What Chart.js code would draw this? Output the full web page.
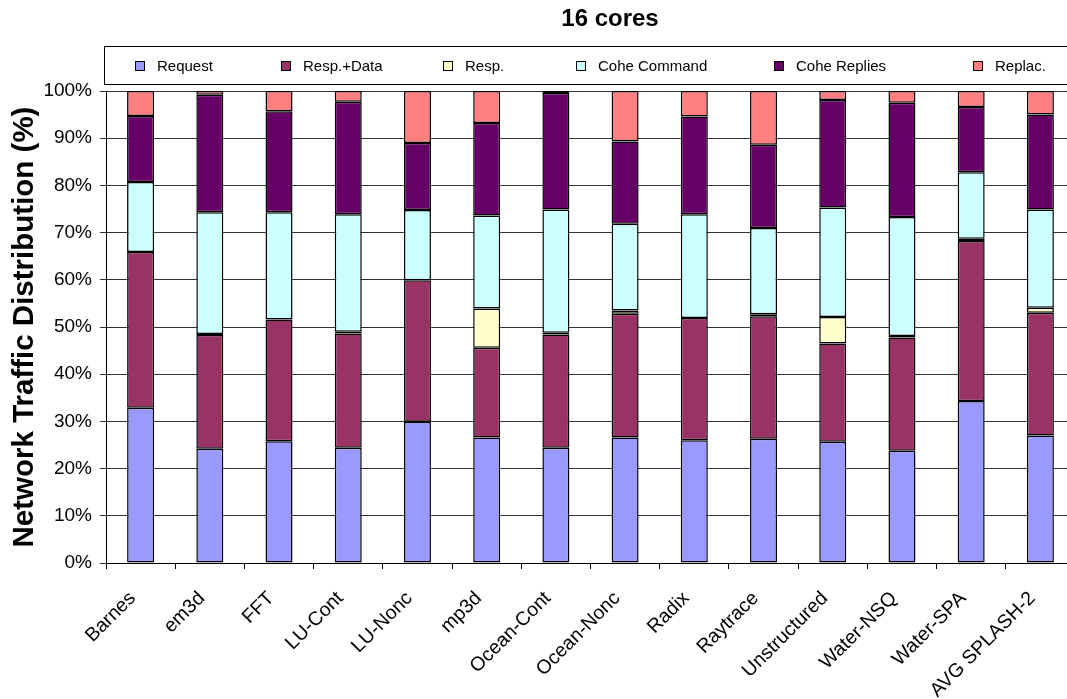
<!DOCTYPE html>
<html>
<head>
<meta charset="utf-8">
<script src="https://cdn.jsdelivr.net/npm/chart.js@4/dist/chart.umd.min.js"></script>
<style>
  html, body { margin: 0; padding: 0; background: #fff; overflow: hidden; }
  #wrap { width: 1080px; height: 699px; }
</style>
</head>
<body>
<div id="wrap"><canvas id="c" width="1080" height="699"></canvas></div>
<script>
// Benchmarks on the x axis
const categories = ['Barnes', 'em3d', 'FFT', 'LU-Cont', 'LU-Nonc', 'mp3d', 'Ocean-Cont',
  'Ocean-Nonc', 'Radix', 'Raytrace', 'Unstructured', 'Water-NSQ', 'Water-SPA', 'AVG SPLASH-2'];

// Share of network traffic per message class (%), stacked to 100
const request      = [32.9, 24.2, 25.8, 24.4, 29.9, 26.6, 24.4, 26.6, 26.0, 26.3, 25.7, 23.8, 34.3, 27.0];
const respData     = [33.0, 24.1, 25.8, 24.2, 30.0, 19.0, 24.0, 26.2, 25.9, 26.0, 20.8, 24.0, 33.9, 26.0];
const resp         = [0,    0.2,  0,    0.4,  0,    8.3,  0.4,  0.7,  0,    0.4,  5.6,  0.3,  0.5,  1.1];
const coheCommand  = [14.8, 25.8, 22.7, 24.9, 14.9, 19.7, 26.1, 18.4, 22.0, 18.3, 23.2, 25.2, 14.1, 20.8];
const coheReplies  = [14.0, 24.9, 21.4, 23.8, 14.2, 19.6, 24.7, 17.4, 20.7, 17.6, 22.8, 24.2, 13.8, 20.1];
const replac       = [5.3,  0.8,  4.3,  2.3,  11.0, 6.8,  0.4,  10.7, 5.4,  11.4, 1.9,  2.5,  3.4,  5.0];

const seriesNames  = ['Request', 'Resp.+Data', 'Resp.', 'Cohe Command', 'Cohe Replies', 'Replac.'];
const yTickLabels  = ['0%', '10%', '20%', '30%', '40%', '50%', '60%', '70%', '80%', '90%', '100%'];
const chartTitle   = '16 cores';
const yAxisTitle   = 'Network Traffic Distribution (%)';

const seriesColors = ['#9999FF', '#993366', '#FFFFCC', '#CCFFFF', '#660066', '#FF8080'];
const seriesValues = [request, respData, resp, coheCommand, coheReplies, replac];

const FONT = '"Liberation Sans", Arial, Helvetica, sans-serif';

// Title and the boxed legend row above the plot
const headerPlugin = {
  id: 'header',
  afterDraw(chart) {
    const ctx = chart.ctx;
    ctx.save();
    ctx.fillStyle = '#000';
    ctx.font = 'bold 24px ' + FONT;
    ctx.textAlign = 'center';
    ctx.textBaseline = 'middle';
    ctx.fillText(chartTitle, 610, 19);

    // legend frame
    ctx.strokeStyle = '#000';
    ctx.lineWidth = 1;
    ctx.strokeRect(104.5, 46.5, 1000, 38);

    const itemX = [135, 281, 443, 576, 774, 973];
    ctx.font = '15px ' + FONT;
    ctx.textAlign = 'left';
    chart.data.datasets.forEach((ds, i) => {
      const x = itemX[i];
      ctx.fillStyle = ds.backgroundColor;
      ctx.fillRect(x + 0.5, 61.5, 9, 9);
      ctx.strokeRect(x + 0.5, 61.5, 9, 9);
      ctx.fillStyle = '#000';
      ctx.fillText(ds.label, x + 22, 67);
    });
    ctx.restore();
  }
};

new Chart(document.getElementById('c'), {
  type: 'bar',
  data: {
    labels: categories,
    datasets: seriesNames.map((name, i) => ({
      label: name,
      data: seriesValues[i],
      backgroundColor: seriesColors[i],
      borderColor: '#000',
      borderWidth: 1.5,
      borderSkipped: false,
      barPercentage: 0.39,
      categoryPercentage: 1.0
    }))
  },
  options: {
    responsive: false,
    animation: false,
    layout: { padding: { top: 91, right: 5, left: 0, bottom: 0 } },
    plugins: {
      legend: { display: false },
      title: { display: false },
      tooltip: { enabled: false }
    },
    scales: {
      x: {
        stacked: true,
        grid: {
          offset: true,
          drawOnChartArea: false,
          drawTicks: true,
          tickLength: 6,
          color: '#000'
        },
        border: { display: true, color: '#000', width: 1 },
        ticks: {
          color: '#000',
          font: { family: FONT, size: 19.5 },
          minRotation: 45,
          maxRotation: 45,
          autoSkip: false,
          padding: 18,
          labelOffset: -8
        },
        afterFit(scale) { scale.height = 136; }
      },
      y: {
        stacked: true,
        min: 0,
        max: 100,
        grid: {
          color: '#333',
          lineWidth: 1,
          drawTicks: true,
          tickLength: 6
        },
        border: { display: true, color: '#000', width: 1 },
        ticks: {
          stepSize: 10,
          color: '#000',
          font: { family: FONT, size: 19 },
          padding: 8,
          callback: (v, i) => yTickLabels[i]
        },
        title: {
          display: true,
          text: yAxisTitle,
          color: '#000',
          font: { family: FONT, size: 29.5, weight: 'bold' },
          padding: { top: 7, bottom: 0 }
        },
        afterFit(scale) { scale.width = 106; }
      }
    }
  },
  plugins: [headerPlugin]
});
</script>
</body>
</html>
